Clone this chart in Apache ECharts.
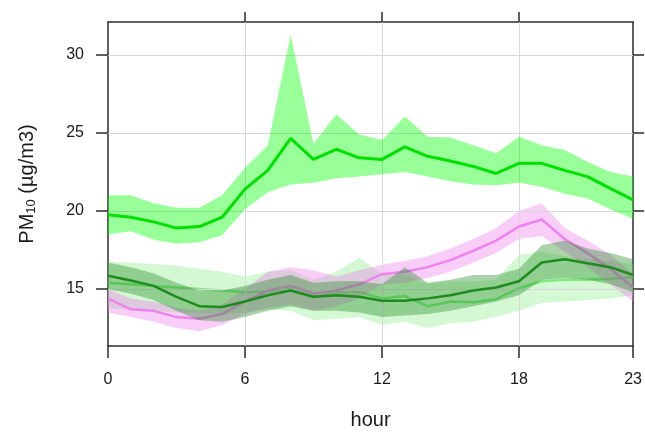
<!DOCTYPE html>
<html>
<head>
<meta charset="utf-8">
<script src="https://cdn.jsdelivr.net/npm/echarts@6/dist/echarts.min.js"></script>
<style>
  html, body { margin: 0; padding: 0; background: #fff; }
  #chart { width: 645px; height: 435px; }
</style>
</head>
<body>
<div id="chart"></div>
<script>
// hour of day
var hours = [0, 1, 2, 3, 4, 5, 6, 7, 8, 9, 10, 11, 12, 13, 14, 15, 16, 17, 18, 19, 20, 21, 22, 23];
var xTicks = [0, 6, 12, 18, 23];
var yTicks = [15, 20, 25, 30];

// bright green group
var greenMean  = [19.75, 19.6, 19.3, 18.9, 19.0, 19.6, 21.4, 22.6, 24.65, 23.3, 23.95, 23.4, 23.3, 24.1, 23.5, 23.2, 22.85, 22.4, 23.05, 23.05, 22.6, 22.2, 21.45, 20.7];
var greenUpper = [21.0, 21.0, 20.5, 20.2, 20.2, 21.0, 22.75, 24.2, 31.3, 24.3, 26.2, 24.9, 24.55, 26.05, 24.75, 24.7, 24.2, 23.7, 24.75, 24.2, 23.9, 23.15, 22.5, 22.2];
var greenLower = [18.5, 18.7, 18.15, 17.9, 18.0, 18.45, 20.1, 21.2, 21.7, 21.8, 22.1, 22.2, 22.35, 22.5, 22.2, 21.9, 21.7, 21.65, 21.8, 21.55, 21.1, 20.8, 20.1, 19.5];

// violet group
var violetMean  = [14.4, 13.7, 13.6, 13.2, 13.1, 13.4, 14.2, 14.9, 15.2, 14.7, 14.9, 15.3, 15.95, 16.1, 16.4, 16.85, 17.45, 18.1, 19.0, 19.45, 18.2, 17.3, 16.3, 15.1];
var violetUpper = [15.0, 14.4, 14.2, 13.8, 13.6, 14.0, 15.0, 16.1, 16.4, 16.2, 15.8, 16.2, 16.55, 16.8, 17.1, 17.6, 18.2, 18.9, 20.0, 20.5, 18.9, 18.1, 17.2, 16.0];
var violetLower = [13.5, 13.2, 12.9, 12.5, 12.3, 12.7, 13.4, 13.8, 14.0, 13.6, 13.9, 14.4, 15.3, 15.4, 15.7, 16.1, 16.7, 17.3, 18.2, 18.4, 17.4, 16.4, 15.3, 14.2];

// dark green group
var darkMean  = [15.85, 15.55, 15.2, 14.5, 13.9, 13.85, 14.2, 14.6, 14.9, 14.5, 14.6, 14.5, 14.25, 14.25, 14.4, 14.6, 14.9, 15.1, 15.5, 16.7, 16.9, 16.65, 16.4, 15.9];
var darkUpper = [16.7, 16.4, 16.0, 15.4, 14.9, 14.9, 15.2, 15.6, 15.9, 15.4, 15.5, 15.5, 15.3, 16.4, 15.4, 15.6, 15.9, 15.9, 16.3, 17.8, 18.1, 17.6, 17.3, 16.9];
var darkLower = [15.0, 14.7, 14.3, 13.6, 13.0, 12.9, 13.2, 13.6, 13.9, 13.6, 13.6, 13.5, 13.2, 13.3, 13.4, 13.6, 13.9, 14.2, 14.6, 15.6, 15.7, 15.6, 15.3, 14.8];

// pale green group
var paleMean  = [15.4, 15.3, 15.2, 15.1, 15.0, 14.9, 14.8, 14.85, 15.0, 14.45, 14.8, 14.8, 14.4, 14.55, 13.9, 14.2, 14.15, 14.35, 15.05, 15.5, 15.6, 15.6, 15.65, 15.75];
var paleUpper = [16.75, 16.7, 16.6, 16.5, 16.3, 16.1, 15.8, 16.1, 16.2, 15.6, 16.1, 17.0, 16.0, 15.9, 15.3, 15.5, 15.5, 15.6, 17.2, 17.4, 17.1, 16.9, 16.8, 16.6];
var paleLower = [13.8, 13.7, 13.6, 13.5, 13.5, 13.4, 13.5, 13.7, 13.6, 13.0, 13.1, 13.2, 12.7, 12.9, 12.5, 12.8, 12.9, 13.2, 13.6, 14.1, 14.2, 14.3, 14.4, 14.6];

var axisColor = '#2b2b2b';
var textColor = '#1a1a1a';
var font = 'Liberation Sans, Arial, sans-serif';

function pairs(vals) {
    return hours.map(function (h, i) { return [h, vals[i]]; });
}

// confidence band drawn as one polygon through the grid's coordinate system
function band(lower, upper, fill, z) {
    return {
        type: 'custom', silent: true, z: z,
        data: hours.map(function (h, i) { return [h, lower[i], upper[i]]; }),
        encode: { x: 0, y: [1, 2] },
        renderItem: function (params, api) {
            if (params.dataIndex !== 0) return;
            var pts = [];
            hours.forEach(function (h, i) { pts.push(api.coord([h, upper[i]])); });
            for (var i = hours.length - 1; i >= 0; i--) pts.push(api.coord([hours[i], lower[i]]));
            return {
                type: 'polygon',
                shape: { points: pts },
                style: { fill: fill, stroke: null }
            };
        }
    };
}

function meanLine(vals, color, width, z) {
    return {
        type: 'line', data: pairs(vals), symbol: 'none', z: z,
        lineStyle: { color: color, width: width }
    };
}

var gridSeries = {
    type: 'line', data: [], silent: true, z: 1,
    markLine: {
        silent: true, symbol: 'none', label: { show: false },
        lineStyle: { color: '#d8d8d8', type: 'solid', width: 1 },
        data: [6, 12, 18].map(function (v) { return { xAxis: v }; })
            .concat(yTicks.map(function (v) { return { yAxis: v }; }))
    }
};

// each group: band then its line, later groups paint over earlier ones
var series = [
    gridSeries,
    band(paleLower, paleUpper, 'rgba(144,238,144,0.4)', 2),
    meanLine(paleMean, '#7CEB7C', 2.5, 3),
    band(violetLower, violetUpper, 'rgba(238,130,238,0.4)', 4),
    meanLine(violetMean, '#EE82EE', 2.5, 5),
    band(darkLower, darkUpper, 'rgba(34,139,34,0.38)', 6),
    meanLine(darkMean, '#1E8B1E', 2.5, 7),
    band(greenLower, greenUpper, 'rgba(0,255,0,0.4)', 8),
    meanLine(greenMean, '#00E000', 3, 9)
];

function frameAxis(extra) {
    var base = {
        type: 'value',
        axisLine: { show: true, onZero: false, lineStyle: { color: axisColor, width: 1.5 } },
        splitLine: { show: false }
    };
    for (var k in extra) base[k] = extra[k];
    return base;
}

var myChart = echarts.init(document.getElementById('chart'));

var option = {
    animation: false,
    backgroundColor: '#fff',
    grid: { left: 108, right: 11, top: 22, bottom: 89 },
    xAxis: [
        frameAxis({
            min: 0, max: 23, position: 'bottom',
            name: 'hour', nameLocation: 'middle', nameGap: 64,
            nameTextStyle: { color: textColor, fontSize: 20, fontFamily: font },
            axisTick: { show: true, length: 12, customValues: xTicks, lineStyle: { color: axisColor, width: 1.5 } },
            axisLabel: { customValues: xTicks, margin: 26, color: textColor, fontSize: 16, fontFamily: font }
        }),
        frameAxis({
            min: 0, max: 23, position: 'top',
            axisTick: { show: true, length: 10, customValues: [6, 12, 18], lineStyle: { color: axisColor, width: 1.5 } },
            axisLabel: { show: false }
        })
    ],
    yAxis: [
        frameAxis({
            min: 11.35, max: 32.1, position: 'left',
            name: '{a|PM}{s|10}{a| (µg/m3)}', nameLocation: 'middle', nameGap: 70,
            nameTextStyle: {
                color: textColor, fontFamily: font,
                rich: {
                    a: { fontSize: 20, color: textColor, fontFamily: font },
                    s: { fontSize: 13, color: textColor, fontFamily: font, padding: [9, 0, 0, 0] }
                }
            },
            axisTick: { show: true, length: 12, customValues: yTicks, lineStyle: { color: axisColor, width: 1.5 } },
            axisLabel: { customValues: yTicks, margin: 24, color: textColor, fontSize: 16, fontFamily: font }
        }),
        frameAxis({
            min: 11.35, max: 32.1, position: 'right',
            axisTick: { show: true, length: 11, customValues: yTicks, lineStyle: { color: axisColor, width: 1.5 } },
            axisLabel: { show: false }
        })
    ],
    series: series
};

myChart.setOption(option);
</script>
</body>
</html>
